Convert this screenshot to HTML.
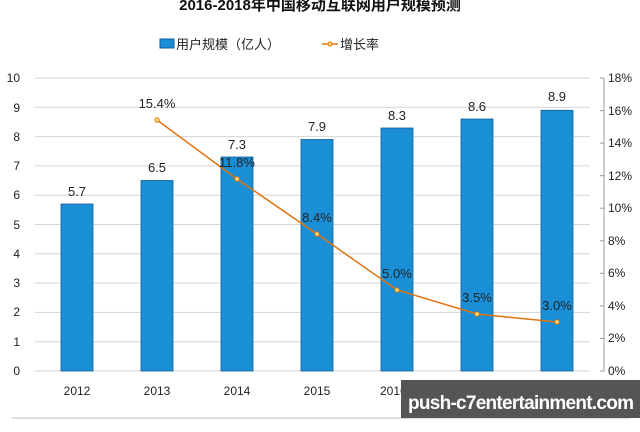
<!DOCTYPE html>
<html><head><meta charset="utf-8"><style>
body{margin:0;width:640px;height:427px;background:#fff;overflow:hidden}
text{font-family:"Liberation Sans","Noto Sans CJK SC",sans-serif}
</style></head><body>
<svg width="640" height="427" xmlns="http://www.w3.org/2000/svg">
<text x="320" y="10" text-anchor="middle" font-size="15" font-weight="bold" fill="#111">2016-2018年中国移动互联网用户规模预测</text>
<rect x="160" y="39" width="14" height="9" fill="#1b8fd6" stroke="#0d5c99"/>
<text x="176" y="49" font-size="13" fill="#222">用户规模（亿人）</text>
<line x1="322" y1="44" x2="338" y2="44" stroke="#e0730f" stroke-width="1.5"/>
<circle cx="330" cy="44" r="2" fill="#ffe070" stroke="#e0730f"/>
<text x="340" y="49" font-size="13" fill="#222">增长率</text>
<g stroke="#d6d6d6" stroke-width="1">
<line x1="35" y1="78" x2="590" y2="78"/><line x1="35" y1="107.3" x2="590" y2="107.3"/><line x1="35" y1="136.6" x2="590" y2="136.6"/><line x1="35" y1="165.9" x2="590" y2="165.9"/><line x1="35" y1="195.2" x2="590" y2="195.2"/><line x1="35" y1="224.5" x2="590" y2="224.5"/><line x1="35" y1="253.8" x2="590" y2="253.8"/><line x1="35" y1="283.1" x2="590" y2="283.1"/><line x1="35" y1="312.4" x2="590" y2="312.4"/><line x1="35" y1="341.7" x2="590" y2="341.7"/><line x1="35" y1="371" x2="590" y2="371"/>
</g>
<line x1="604" y1="78" x2="604" y2="371" stroke="#999"/>
<g stroke="#999"><line x1="600" y1="78" x2="604" y2="78"/><line x1="600" y1="110.6" x2="604" y2="110.6"/><line x1="600" y1="143.1" x2="604" y2="143.1"/><line x1="600" y1="175.7" x2="604" y2="175.7"/><line x1="600" y1="208.2" x2="604" y2="208.2"/><line x1="600" y1="240.8" x2="604" y2="240.8"/><line x1="600" y1="273.3" x2="604" y2="273.3"/><line x1="600" y1="305.9" x2="604" y2="305.9"/><line x1="600" y1="338.4" x2="604" y2="338.4"/><line x1="600" y1="371" x2="604" y2="371"/></g>
<g font-size="12" fill="#222" text-anchor="end">
<text x="20" y="82">10</text><text x="20" y="112">9</text><text x="20" y="141">8</text><text x="20" y="170">7</text><text x="20" y="199">6</text><text x="20" y="229">5</text><text x="20" y="258">4</text><text x="20" y="287">3</text><text x="20" y="316">2</text><text x="20" y="346">1</text><text x="20" y="375">0</text>
</g>
<g font-size="12" fill="#222">
<text x="608" y="82">18%</text><text x="608" y="115">16%</text><text x="608" y="147">14%</text><text x="608" y="180">12%</text><text x="608" y="212">10%</text><text x="608" y="245">8%</text><text x="608" y="277">6%</text><text x="608" y="310">4%</text><text x="608" y="342">2%</text><text x="608" y="375">0%</text>
</g>
<g fill="#1b8fd6" stroke="#0d5c99" stroke-width="0.8">
<rect x="61" y="204" width="32" height="167"/><rect x="141" y="180.5" width="32" height="190.5"/><rect x="221" y="157" width="32" height="214"/><rect x="301" y="139.5" width="32" height="231.5"/><rect x="381" y="128" width="32" height="243"/><rect x="461" y="119" width="32" height="252"/><rect x="541" y="110.3" width="32" height="260.7"/>
</g>
<g font-size="13" fill="#222" text-anchor="middle">
<text x="77" y="196">5.7</text><text x="157" y="172">6.5</text><text x="237" y="149">7.3</text><text x="317" y="131">7.9</text><text x="397" y="120">8.3</text><text x="477" y="111">8.6</text><text x="557" y="101">8.9</text>
</g>
<polyline points="157,120 237,179 317,234 397,290 477,314 557,322" fill="none" stroke="#e0730f" stroke-width="1.5"/>
<g fill="#ffe070" stroke="#e0730f"><circle cx="157" cy="120" r="2.2"/><circle cx="237" cy="179" r="2.2"/><circle cx="317" cy="234" r="2.2"/><circle cx="397" cy="290" r="2.2"/><circle cx="477" cy="314" r="2.2"/><circle cx="557" cy="322" r="2.2"/></g>
<g font-size="13" fill="#222" text-anchor="middle">
<text x="157" y="108">15.4%</text><text x="237" y="167">11.8%</text><text x="317" y="222">8.4%</text><text x="397" y="278">5.0%</text><text x="477" y="302">3.5%</text><text x="557" y="310">3.0%</text>
</g>
<g font-size="12" fill="#222" text-anchor="middle">
<text x="77" y="395">2012</text><text x="157" y="395">2013</text><text x="237" y="395">2014</text><text x="317" y="395">2015</text><text x="397" y="395">2016F</text><text x="477" y="395">2017F</text><text x="557" y="395">2018F</text>
</g>
<line x1="12" y1="418" x2="630" y2="418" stroke="#bbb"/>
<rect x="401" y="380" width="239" height="38" fill="#555"/>
<text x="408" y="409" font-size="19" font-weight="bold" fill="#fff" font-family="'DejaVu Sans',sans-serif" textLength="226">push-c7entertainment.com</text>
</svg>
</body></html>
